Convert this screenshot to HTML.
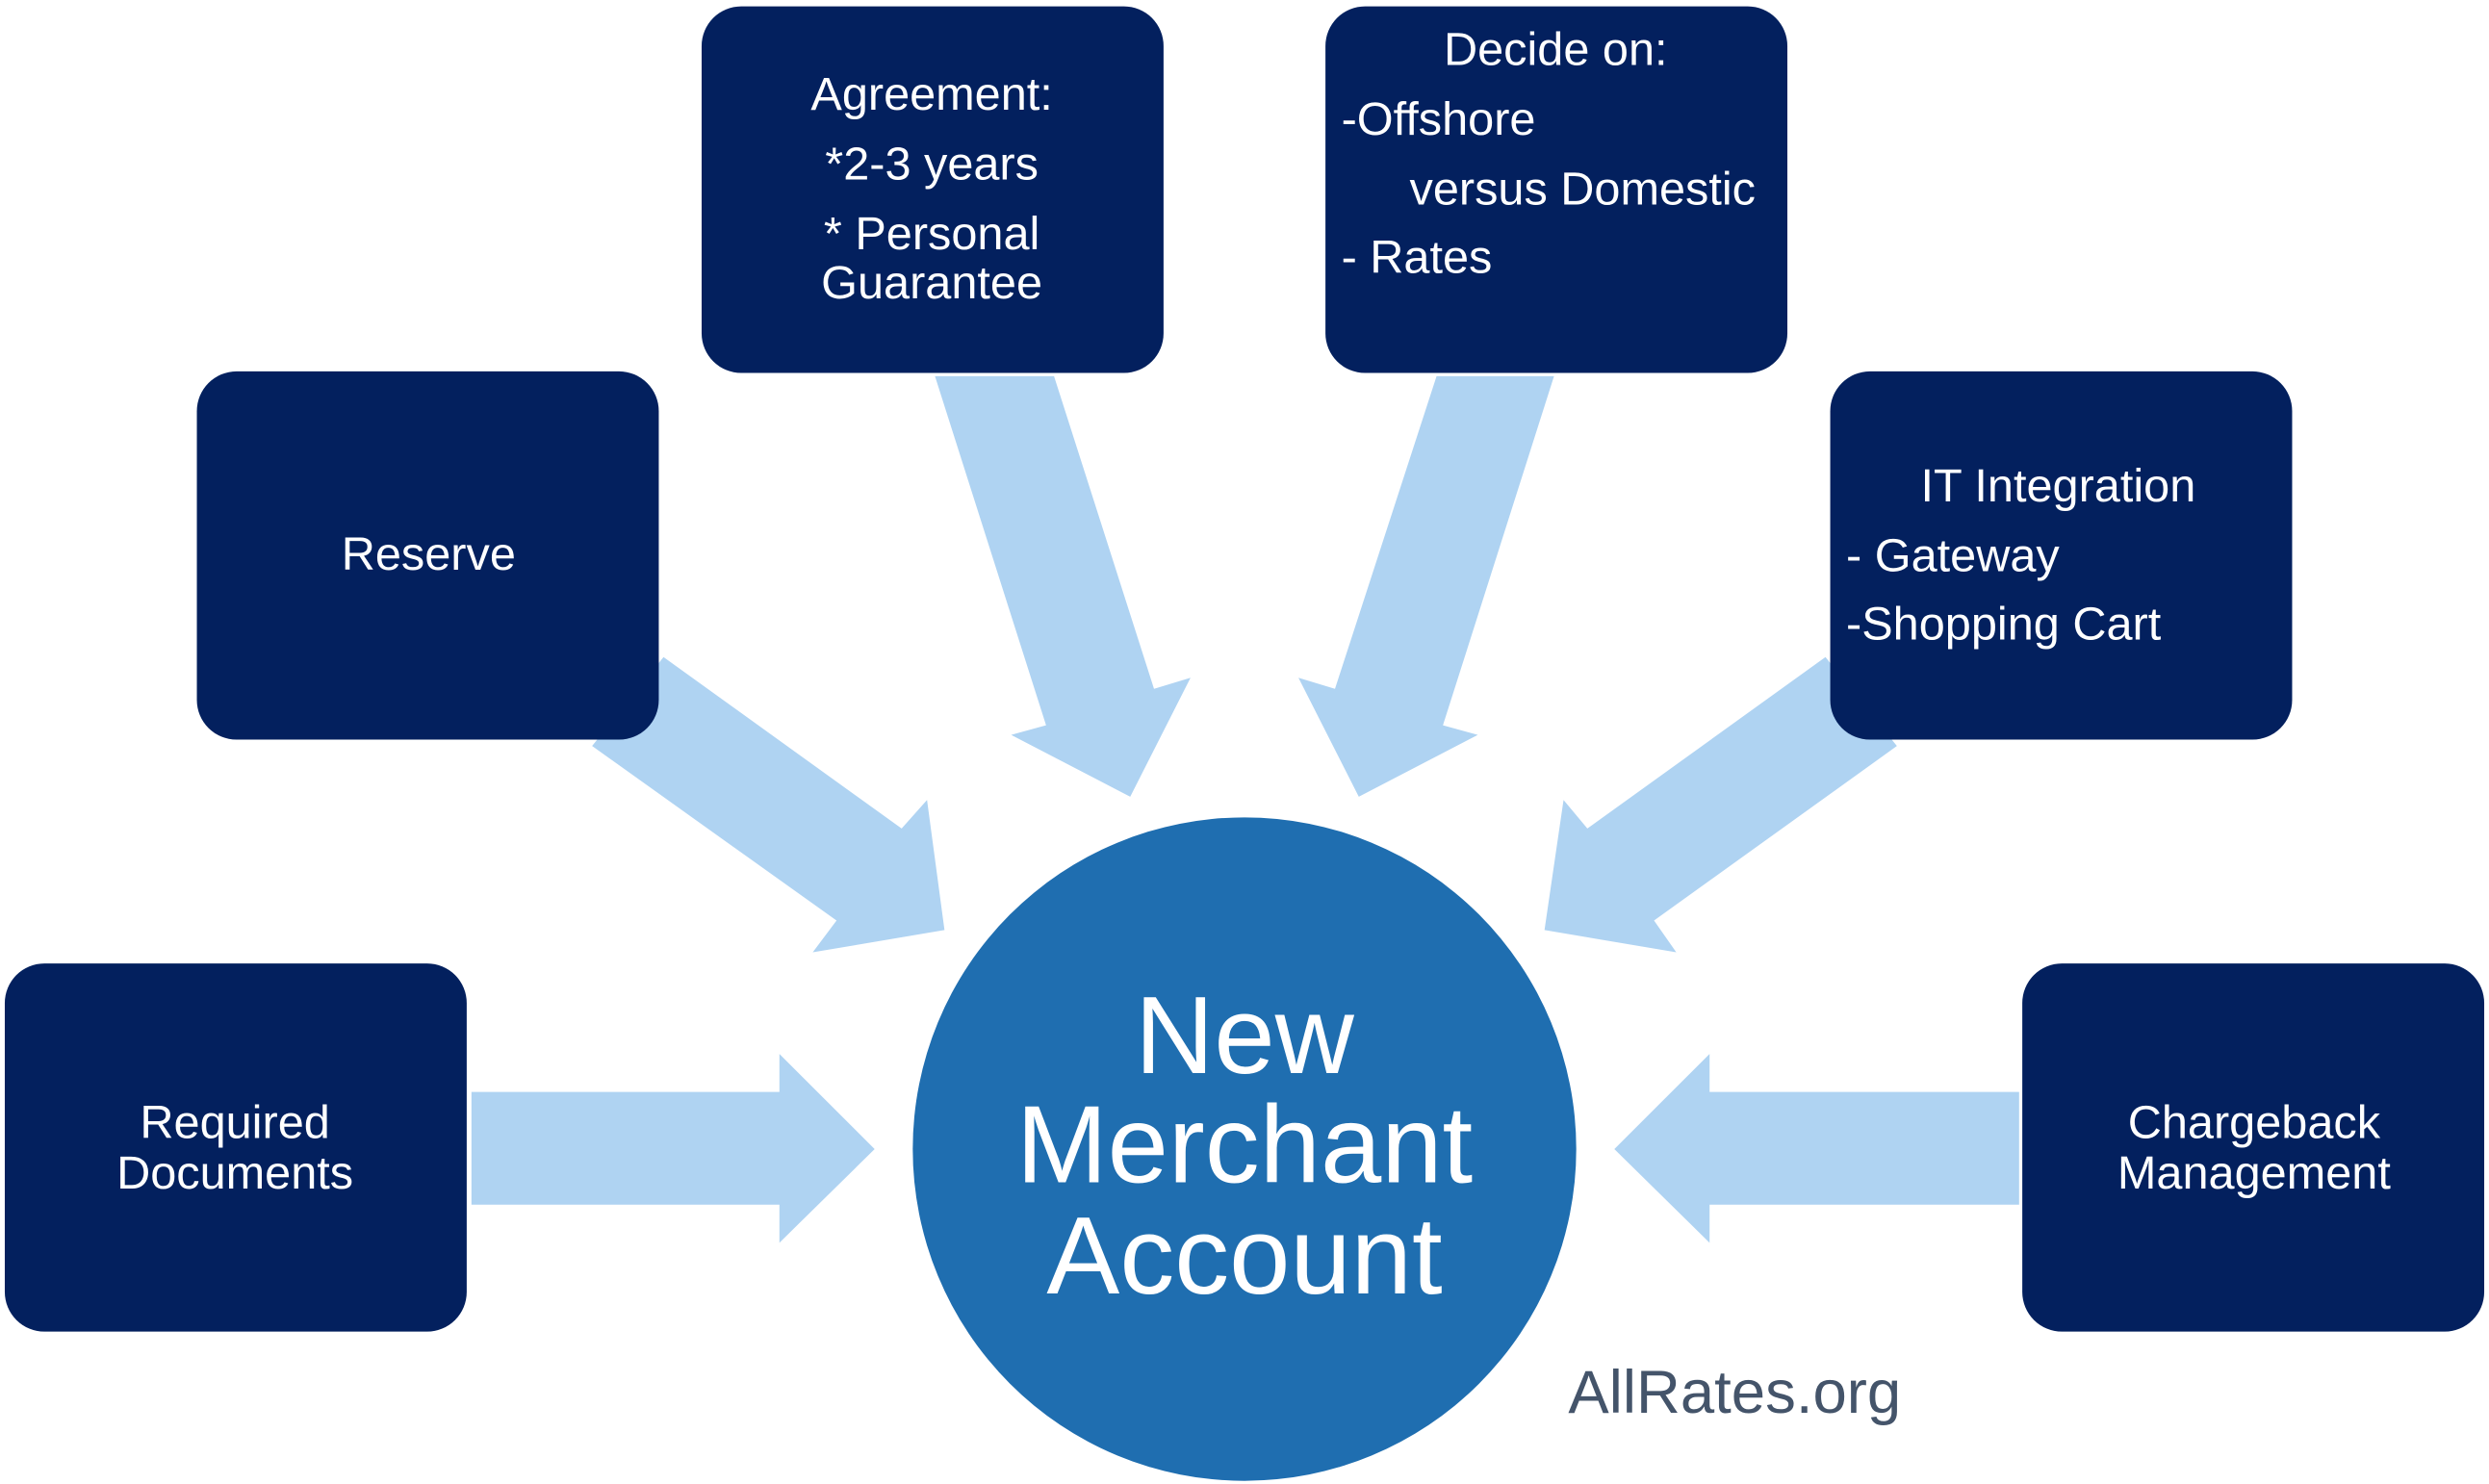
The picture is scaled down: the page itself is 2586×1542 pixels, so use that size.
<!DOCTYPE html>
<html><head><meta charset="utf-8"><style>
html,body{margin:0;padding:0;background:#fff;}
svg{display:block;}
text{font-family:"Liberation Sans",Arial,sans-serif;fill:#fff;}
</style></head><body>
<svg width="2586" height="1542" viewBox="0 0 1568 935" xmlns="http://www.w3.org/2000/svg">
<rect width="1568" height="935" fill="#fff"/>
<g fill="#afd3f2">
<polygon points="297,688 491,688 491,664 551,724 491,783 491,759 297,759"/>
<polygon points="1272,688 1077,688 1077,664 1017,724 1077,783 1077,759 1272,759"/>
<polygon points="589,237 664,237 727,434 750,427 712,502 637,463 659,457"/>
<polygon points="905,237 979,237 909,457 931,463 856,502 818,427 841,434"/>
<polygon points="418,414 568,522 584,504 595,586 512,600 527,580 373,470"/>
<polygon points="1150,414 1000,522 985,504 973,586 1056,600 1042,580 1195,470"/>
</g>
<g fill="#03205e">
<rect x="442" y="4" width="291" height="231" rx="25"/>
<rect x="835" y="4" width="291" height="231" rx="25"/>
<rect x="124" y="234" width="291" height="232" rx="25"/>
<rect x="1153" y="234" width="291" height="232" rx="25"/>
<rect x="3" y="607" width="291" height="232" rx="25"/>
<rect x="1274" y="607" width="291" height="232" rx="25"/>
</g>
<circle cx="784" cy="724" r="209" fill="#1f6eb0"/>
<g font-size="29.5" text-anchor="middle">
<text x="587" y="69">Agreement:</text>
<text x="587" y="113">*2-3 years</text>
<text x="587" y="157">* Personal</text>
<text x="587" y="188">Guarantee</text>
<text x="980" y="41">Decide on:</text>
<text x="270" y="359">Reserve</text>
<text x="148" y="717">Required</text>
<text x="148" y="749">Documents</text>
<text x="1420" y="717">Chargeback</text>
<text x="1420" y="749">Management</text>
</g>
<g font-size="29.5">
<text x="845" y="85">-Offshore</text>
<text x="888" y="129">versus Domestic</text>
<text x="845" y="172">- Rates</text>
<text x="1210" y="316">IT Integration</text>
<text x="1163" y="360">- Gateway</text>
<text x="1163" y="403">-Shopping Cart</text>
</g>
<g font-size="69" text-anchor="middle">
<text x="784" y="676">New</text>
<text x="784" y="745">Merchant</text>
<text x="784" y="815">Account</text>
</g>
<text x="988" y="890" font-size="38.5" style="fill:#44546a">AllRates.org</text>
</svg>
</body></html>
